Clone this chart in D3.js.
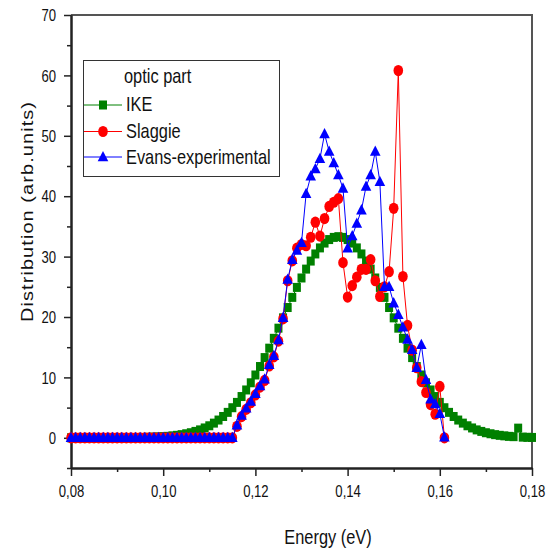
<!DOCTYPE html>
<html>
<head>
<meta charset="utf-8">
<script src="https://cdn.jsdelivr.net/npm/d3@7"></script>
<style>
body { margin: 0; background: #fff; }
</style>
</head>
<body>
<div id="chart"></div>
<script>
// energy grid (eV)
const energy = [0.080,0.081,0.082,0.083,0.084,0.085,0.086,0.087,0.088,0.089,
  0.090,0.091,0.092,0.093,0.094,0.095,0.096,0.097,0.098,0.099,
  0.100,0.101,0.102,0.103,0.104,0.105,0.106,0.107,0.108,0.109,
  0.110,0.111,0.112,0.113,0.114,0.115,0.116,0.117,0.118,0.119,
  0.120,0.121,0.122,0.123,0.124,0.125,0.126,0.127,0.128,0.129,
  0.130,0.131,0.132,0.133,0.134,0.135,0.136,0.137,0.138,0.139,
  0.140,0.141,0.142,0.143,0.144,0.145,0.146,0.147,0.148,0.149,
  0.150,0.151,0.152,0.153,0.154,0.155,0.156,0.157,0.158,0.159,
  0.160,0.161,0.162,0.163,0.164,0.165,0.166,0.167,0.168,0.169,
  0.170,0.171,0.172,0.173,0.174,0.175,0.176,0.177,0.178,0.179,0.180];

// IKE : 0.080 .. 0.180
const ike = [0,0,0,0,0,0,0,0,0,0,
  0,0,0,0,0.03,0.04,0.06,0.08,0.11,0.14,
  0.19,0.24,0.32,0.41,0.52,0.67,0.84,1.06,1.31,1.63,
  1.99,2.43,2.94,3.53,4.21,4.98,5.86,6.83,7.92,9.11,
  10.4,11.8,13.28,14.84,16.47,18.15,19.86,21.57,23.25,24.9,
  26.46,27.93,29.26,30.44,31.44,32.24,32.82,33.18,33.3,33.18,
  32.82,32.24,31.44,30.44,29.26,27.93,26.46,24.9,23.25,21.57,
  19.86,18.15,16.47,14.84,13.28,11.8,10.4,9.11,7.92,6.83,
  5.86,4.98,4.21,3.53,2.94,2.43,1.99,1.63,1.31,1.06,
  0.84,0.67,0.52,0.41,0.32,0.24,0.19,1.6,0.11,0.08,0.06];

// Slaggie : 0.080 .. 0.161
const slaggie = [0,0,0,0,0,0,0,0,0,0,
  0,0,0,0,0,0,0,0,0,0,
  0,0,0,0,0,0,0,0,0,0,
  0,0,0,0,0,0,1.9,3.5,4.7,5.8,
  7.1,8.4,9.5,11.9,13.4,16.0,19.7,26.0,29.3,31.4,
  32.0,31.8,33.2,35.7,33.4,36.3,38.3,39.0,39.6,29.0,
  23.3,25.2,26.6,27.9,27.9,29.5,26.0,23.4,25.0,27.5,
  38.0,60.8,26.7,18.6,14.5,11.6,9.3,7.5,5.5,3.9,
  8.5,0.0];

// Evans-experimental : 0.080 .. 0.161
const evans = [0,0,0,0,0,0,0,0,0,0,
  0,0,0,0,0,0,0,0,0,0,
  0,0,0,0,0,0,0,0,0,0,
  0,0,0,0,0,0,2.1,3.7,4.9,6.0,
  7.3,8.6,9.7,12.1,13.6,16.2,19.9,26.2,29.5,31.0,
  32.3,40.4,43.3,44.5,46.2,50.3,47.4,45.5,43.5,41.3,
  31.4,33.4,35.5,37.7,41.6,43.5,47.4,42.4,25.0,25.0,
  22.3,20.4,18.3,16.3,14.6,11.6,15.4,9.6,6.4,5.6,
  4.0,0.1];

const xTicks = [0.08, 0.10, 0.12, 0.14, 0.16, 0.18];
const xTickLabels = ["0,08", "0,10", "0,12", "0,14", "0,16", "0,18"];
const xMinor = [0.09, 0.11, 0.13, 0.15, 0.17];
const yTicks = [0, 10, 20, 30, 40, 50, 60, 70];
const yMinor = [-5, 5, 15, 25, 35, 45, 55, 65];

const seriesNames = ["IKE", "Slaggie", "Evans-experimental"];
const seriesColors = ["#008000", "#ff0000", "#0000ff"];

const width = 553, height = 553;
const font = "'Liberation Sans', Arial, sans-serif";
const squeeze = 0.82; // the lettering is narrow

const svg = d3.select("#chart").append("svg")
    .attr("width", width)
    .attr("height", height);

const x = d3.scaleLinear().domain([0.08, 0.18]).range([71, 532]);
const y = d3.scaleLinear().domain([-5, 70]).range([468, 15]);

// frame on top and right
svg.append("line").attr("x1", 71).attr("x2", 533).attr("y1", 15).attr("y2", 15)
    .attr("stroke", "#555").attr("stroke-width", 2);
svg.append("line").attr("x1", 532).attr("x2", 532).attr("y1", 15).attr("y2", 468)
    .attr("stroke", "#555").attr("stroke-width", 2);

// axes
function styleAxis(g) {
    g.select(".domain").attr("stroke", "#222").attr("stroke-width", 2);
    g.selectAll(".tick line").attr("stroke", "#222").attr("stroke-width", 1.5);
}

svg.append("g").attr("transform", `translate(0,${y(-5)})`)
    .call(d3.axisBottom(x).tickValues(xMinor).tickSize(4).tickSizeOuter(0).tickFormat(""))
    .call(styleAxis);
const gx = svg.append("g").attr("transform", `translate(0,${y(-5)})`)
    .call(d3.axisBottom(x).tickValues(xTicks).tickSize(8).tickSizeOuter(0)
        .tickFormat((d, i) => xTickLabels[i]))
    .call(styleAxis);
gx.selectAll("text")
    .attr("y", 29).attr("dy", 0)
    .attr("transform", `scale(${squeeze},1)`)
    .attr("fill", "#111")
    .style("font-family", font).style("font-size", "16px");

svg.append("g").attr("transform", `translate(${x(0.08)},0)`)
    .call(d3.axisLeft(y).tickValues(yMinor).tickSize(4).tickSizeOuter(0).tickFormat(""))
    .call(styleAxis);
const gy = svg.append("g").attr("transform", `translate(${x(0.08)},0)`)
    .call(d3.axisLeft(y).tickValues(yTicks).tickSize(7).tickSizeOuter(0))
    .call(styleAxis);
gy.selectAll("text")
    .attr("x", -15 / squeeze).attr("dy", "0.35em")
    .attr("transform", `scale(${squeeze},1)`)
    .attr("fill", "#111")
    .style("font-family", font).style("font-size", "16px");

// axis titles
svg.append("text")
    .attr("transform", `translate(328,544) scale(${squeeze},1)`)
    .attr("text-anchor", "middle")
    .style("font-family", font).style("font-size", "20px")
    .attr("fill", "#111")
    .text("Energy (eV)");

svg.append("text")
    .attr("transform", `translate(33,212) scale(${squeeze},1) rotate(-90)`)
    .attr("text-anchor", "middle")
    .attr("textLength", 220).attr("lengthAdjust", "spacing")
    .style("font-family", font).style("font-size", "20px")
    .attr("fill", "#111")
    .text("Distribution (arb.units)");

// markers
function marker(sel, k) {
    if (k === 0) {
        sel.append("rect").attr("x", -4).attr("y", -4.5).attr("width", 8).attr("height", 9)
            .attr("fill", seriesColors[0]);
    } else if (k === 1) {
        sel.append("ellipse").attr("rx", 4.8).attr("ry", 5.6)
            .attr("fill", seriesColors[1]);
    } else {
        sel.append("path").attr("d", "M0,-6L5.3,4.3L-5.3,4.3Z")
            .attr("fill", seriesColors[2]);
    }
}

const allSeries = [ike, slaggie, evans];
const line = d3.line().x(d => x(d[0])).y(d => y(d[1]));

allSeries.forEach((vals, k) => {
    const pts = vals.map((v, i) => [energy[i], v]);
    svg.append("path")
        .datum(pts)
        .attr("fill", "none")
        .attr("stroke", seriesColors[k])
        .attr("stroke-width", 1)
        .attr("d", line);
    svg.append("g").selectAll("g")
        .data(pts)
        .enter()
        .append("g")
        .attr("transform", d => `translate(${x(d[0])},${y(d[1])})`)
        .each(function () { marker(d3.select(this), k); });
});

// legend
const lg = svg.append("g");
lg.append("rect").attr("x", 83.5).attr("y", 60.5).attr("width", 196).attr("height", 116)
    .attr("fill", "#fff").attr("stroke", "#333").attr("stroke-width", 1);
lg.append("text")
    .attr("transform", `translate(124,83) scale(${squeeze},1)`)
    .style("font-family", font).style("font-size", "20px")
    .attr("fill", "#111")
    .text("optic part");
const legendY = [105, 131.5, 157];
const legendBase = [111, 138, 164];
seriesNames.forEach((name, k) => {
    lg.append("line").attr("x1", 84).attr("x2", 122)
        .attr("y1", legendY[k]).attr("y2", legendY[k])
        .attr("stroke", seriesColors[k]).attr("stroke-width", 1);
    const m = lg.append("g").attr("transform", `translate(103,${legendY[k]})`);
    marker(m, k);
    lg.append("text")
        .attr("transform", `translate(126,${legendBase[k]}) scale(${squeeze},1)`)
        .style("font-family", font).style("font-size", "20px")
        .attr("fill", "#111")
        .text(name);
});
</script>
</body>
</html>
